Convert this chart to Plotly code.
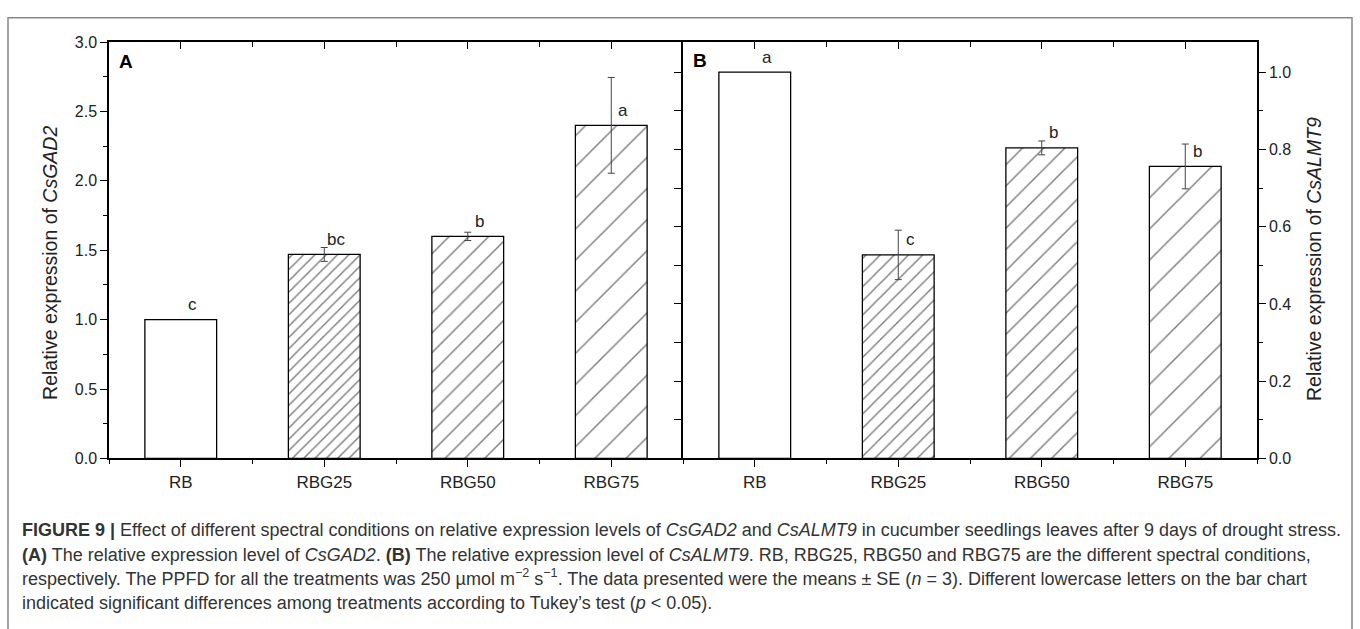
import plotly.graph_objects as go

categories = ["RB", "RBG25", "RBG50", "RBG75"]
gad2_values = [1.00, 1.47, 1.60, 2.40]
gad2_errors = [None, 0.05, 0.03, 0.345]
gad2_letters = ["c", "bc", "b", "a"]
almt9_values = [1.00, 0.527, 0.804, 0.756]
almt9_errors = [None, 0.064, 0.018, 0.058]
almt9_letters = ["a", "c", "b", "b"]
gad2_ticks = [0.0, 0.5, 1.0, 1.5, 2.0, 2.5, 3.0]
almt9_ticks = [0.0, 0.2, 0.4, 0.6, 0.8, 1.0]

W, H = 1360, 629
def px(x): return x / W
def py(y): return (H - y) / H

XA = [px(109), px(683)]
XB = [px(683), px(1257)]
YD = [py(463), py(35)]

xs = list(range(len(categories)))
shapes_pat = ["", "/", "/", "/"]
sizesA = [8, 8, 14, 22]
sizesB = [8, 10, 15, 22]
solA = [1.45 / s for s in sizesA]
solB = [1.45 / s for s in sizesB]

FONT = "Liberation Sans, Arial, sans-serif"
TXT = "#222"

fig = go.Figure()
for vals, errs, sizes, sol, xa, ya in [
        (gad2_values, gad2_errors, sizesA, solA, "x", "y"),
        (almt9_values, almt9_errors, sizesB, solB, "x2", "y2")]:
    fig.add_trace(go.Bar(
        x=xs, y=vals, width=0.5, xaxis=xa, yaxis=ya,
        marker=dict(color="white", line=dict(color="black", width=1.3),
                    pattern=dict(shape=shapes_pat, size=sizes, solidity=sol,
                                 fgcolor="black", bgcolor="white", fillmode="overlay")),
        showlegend=False, hoverinfo="skip"))
    idx = [i for i, e in enumerate(errs) if e is not None]
    fig.add_trace(go.Scatter(
        x=[xs[i] for i in idx], y=[vals[i] for i in idx], xaxis=xa, yaxis=ya,
        mode="markers", marker=dict(opacity=0),
        error_y=dict(type="data", array=[errs[i] for i in idx], color="#444",
                     thickness=1, width=3.5),
        showlegend=False, hoverinfo="skip"))
# invisible helper traces so the overlay axes (top ticks, panel-B left ticks) are drawn
for xa, ya in [("x3", "y"), ("x4", "y2"), ("x2", "y3")]:
    fig.add_trace(go.Scatter(x=[0], y=[0], xaxis=xa, yaxis=ya, mode="markers",
                             marker=dict(opacity=0), showlegend=False, hoverinfo="skip"))

ax_common = dict(showline=True, linecolor="black", linewidth=1.5, zeroline=False,
                 showgrid=False, tickcolor="black", tickwidth=1.3,
                 tickfont=dict(family=FONT, size=16, color=TXT))
xcommon = dict(ax_common, range=[-0.5, 3.5], tickvals=xs, ticktext=categories,
               ticks="outside", ticklen=7, tickfont=dict(family=FONT, size=17, color=TXT),
               minor=dict(tickvals=[-0.5, 0.5, 1.5, 2.5, 3.5], ticks="outside",
                          ticklen=4, tickcolor="black", tickwidth=1.3))
xtop = dict(ax_common, range=[-0.5, 3.5], tickvals=xs, ticks="inside", ticklen=7,
            showticklabels=False, side="top",
            minor=dict(tickvals=[-0.5, 0.5, 1.5, 2.5, 3.5], ticks="inside",
                       ticklen=5, tickcolor="black", tickwidth=1.3))
yB_max = 1.078

fig.update_layout(
    width=W, height=H, margin=dict(l=0, r=0, t=0, b=0),
    paper_bgcolor="white", plot_bgcolor="rgba(0,0,0,0)",
    xaxis=dict(xcommon, domain=XA, anchor="y"),
    xaxis2=dict(xcommon, domain=XB, anchor="y2"),
    xaxis3=dict(xtop, overlaying="x", anchor="y"),
    xaxis4=dict(xtop, overlaying="x2", anchor="y2"),
    yaxis=dict(ax_common, domain=YD, anchor="x", range=[0, 3], tickvals=gad2_ticks,
               tickformat=".1f", ticks="outside", ticklen=7,
               minor=dict(dtick=0.25, ticks="outside", ticklen=4,
                          tickcolor="black", tickwidth=1.3)),
    yaxis2=dict(ax_common, domain=YD, anchor="x2", side="right", range=[0, yB_max],
                tickvals=almt9_ticks, tickformat=".1f", ticks="outside", ticklen=7,
                minor=dict(dtick=0.1, ticks="outside", ticklen=4,
                           tickcolor="black", tickwidth=1.3)),
    yaxis3=dict(ax_common, overlaying="y2", anchor="x2", side="left",
                range=[0, yB_max], dtick=0.1, ticks="outside", ticklen=7,
                showticklabels=False),
)

ann = []
for i, (v, l) in enumerate(zip(gad2_values, gad2_letters)):
    ann.append(dict(x=i, y=v, xref="x", yref="y", text=l, showarrow=False,
                    xshift=12, yshift=15, font=dict(family=FONT, size=17, color=TXT)))
for i, (v, l) in enumerate(zip(almt9_values, almt9_letters)):
    ann.append(dict(x=i, y=v, xref="x2", yref="y2", text=l, showarrow=False,
                    xshift=12, yshift=15, font=dict(family=FONT, size=17, color=TXT)))
ann.append(dict(x=px(117), y=py(55), xref="paper", yref="paper", text="<b>A</b>",
                showarrow=False, xanchor="left", yanchor="middle",
                font=dict(family=FONT, size=19, color="black")))
ann.append(dict(x=px(691), y=py(54), xref="paper", yref="paper", text="<b>B</b>",
                showarrow=False, xanchor="left", yanchor="middle",
                font=dict(family=FONT, size=19, color="black")))
ann.append(dict(x=px(50), y=py(262), xref="paper", yref="paper",
                text="Relative expression of <i>CsGAD2</i>", textangle=-90,
                showarrow=False, xanchor="center", yanchor="middle",
                font=dict(family=FONT, size=19.5, color=TXT)))
ann.append(dict(x=px(1314), y=py(258), xref="paper", yref="paper",
                text="Relative expression of <i>CsALMT9</i>", textangle=-90,
                showarrow=False, xanchor="center", yanchor="middle",
                font=dict(family=FONT, size=19.5, color=TXT)))

caption = [
    "<b>FIGURE 9 |</b> Effect of different spectral conditions on relative expression levels of <i>CsGAD2</i> and <i>CsALMT9</i> in cucumber seedlings leaves after 9 days of drought stress.",
    "<b>(A)</b> The relative expression level of <i>CsGAD2</i>. <b>(B)</b> The relative expression level of <i>CsALMT9</i>. RB, RBG25, RBG50 and RBG75 are the different spectral conditions,",
    "respectively. The PPFD for all the treatments was 250 \u00b5mol m<sup>\u22122</sup> s<sup>\u22121</sup>. The data presented were the means \u00b1 SE (<i>n</i> = 3). Different lowercase letters on the bar chart",
    "indicated significant differences among treatments according to Tukey\u2019s test (<i>p</i> &lt; 0.05).",
]
cap_y = [537, 562, 585, 612]
for t, yy in zip(caption, cap_y):
    ann.append(dict(x=px(20), y=py(yy), xref="paper", yref="paper", text=t,
                    showarrow=False, xanchor="left", yanchor="middle",
                    font=dict(family="Liberation Sans, Arial, sans-serif",
                              size=18, color="#333")))
fig.update_layout(annotations=ann)

fig.add_shape(type="rect", xref="paper", yref="paper", x0=px(8), x1=px(1352),
              y0=-0.05, y1=py(10), line=dict(color="#888", width=1.5),
              fillcolor="rgba(0,0,0,0)", layer="below")

fig.write_html("out.html", config={"displayModeBar": False},
               post_script="document.body.style.margin='0';")
